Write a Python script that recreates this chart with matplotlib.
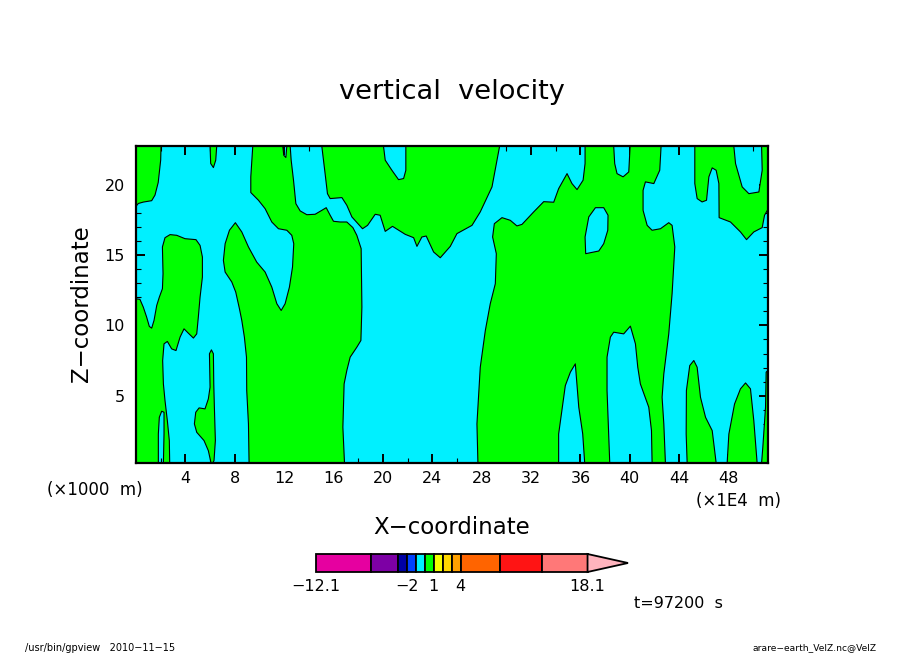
import matplotlib
matplotlib.use("Agg")
import matplotlib.pyplot as plt
from matplotlib.ticker import MultipleLocator

plt.rcParams['font.family'] = 'DejaVu Sans'
W, H = 904, 654
CYAN = '#00f0ff'
GREEN = '#00ff00'

XMAX = 51.2
ZMIN, ZMAX = 0.19, 22.8

# Outlines of the positive (green) regions of the vertical velocity field: (x, z)
region_a = [(0,22.8),(2.03,22.8),(2.0,21.8),(1.8,20.2),(1.54,19.3),(1.27,18.9),(0.59,18.8),(0.19,18.7),(0,18.5)]
region_b = [(0,11.9),(0.32,11.86),(0.59,11.31),(0.86,10.6),(1.08,9.93),(1.27,9.81),(1.46,10.36),(1.68,11.43),
            (1.89,12.02),(2.14,12.62),(2.19,13.69),(2.14,15.6),(2.35,16.26),(2.76,16.48),(3.3,16.43),(3.97,16.19),
            (4.86,16.12),(5.19,15.71),(5.38,14.88),(5.38,13.45),(5.19,12.02),(5.05,10.6),(4.92,9.4),(4.65,9.1),
            (4.24,9.45),(3.89,9.76),(3.57,9.17),(3.24,8.21),(2.89,8.33),(2.54,8.86),(2.27,8.69),(2.16,7.5),
            (2.22,5.83),(2.35,4.64),(2.54,3.21),(2.7,1.79),(2.73,0.19),(2.22,0.19),(2.27,2.26),(2.27,3.81),
            (2.08,3.88),(1.89,3.45),(1.81,2.26),(1.81,0.19),(0,0.19)]
region_c = [(6.0,22.8),(6.05,21.55),(6.27,21.26),(6.46,21.79),(6.54,22.8)]
region_d = [(6.08,.19),(5.86,1.07),(5.51,1.79),(4.92,2.38),(4.73,2.98),(4.84,3.81),(5.11,4.12),(5.59,4.05),
            (5.86,4.76),(6.0,5.6),(5.95,7.98),(6.11,8.26),(6.27,7.98),(6.3,5.83),(6.35,4.17),(6.43,1.79),
            (6.32,.36),(6.22,.19)]
region_e = [(9.16,.19),(9.11,2.98),(8.97,5.36),(8.95,7.74),(8.78,9.17),(8.57,10.36),(8.38,11.19),(8.08,12.38),
            (7.76,13.1),(7.22,13.81),(7.08,14.64),(7.22,15.83),(7.57,16.79),(8.05,17.33),(8.57,16.67),(9.11,15.6),
            (9.78,14.52),(10.46,13.81),(11.0,12.74),(11.41,11.55),(11.76,11.07),(12.08,11.55),(12.43,12.74),
            (12.68,14.17),(12.78,15.83),(12.62,16.43),(12.22,16.79),(11.54,16.9),(11.0,17.38),(10.46,18.33),
            (9.92,18.93),(9.3,19.48),(9.3,20.6),(9.46,22.8),(11.89,22.8),(11.97,22.14),(12.14,21.98),(12.22,22.8),
            (12.49,22.8),(12.57,21.79),(12.76,20.36),(12.95,18.69),(13.3,18.17),(13.84,17.9),(14.51,17.93),
            (15.05,18.21),(15.41,18.4),(15.73,17.86),(16.0,17.43),(16.54,17.38),(17.08,17.38),(17.57,16.98),
            (17.89,16.43),(18.24,15.48),(18.3,11.31),(18.22,8.93),(17.89,8.45),(17.35,7.74),(17.08,6.79),
            (16.86,5.83),(16.76,2.74),(16.89,.19)]
region_f = [(15.05,22.8),(15.32,20.83),(15.51,19.4),(15.73,19.05),(16.68,19.12),(17.08,18.57),(17.49,17.74),
            (18.35,16.9),(18.76,17.14),(19.38,17.93),(19.78,17.86),(20.19,16.71),(20.78,17.07),(21.81,16.5),
            (22.49,16.26),(22.76,15.64),(23.16,16.31),(23.51,16.38),(24.11,15.24),(24.65,14.83),(25.46,15.64),
            (26.0,16.55),(27.22,17.14),(27.89,18.1),(28.84,19.88),(29.46,22.8),(21.86,22.8),(21.86,21.07),
            (21.68,20.48),(21.27,20.4),(20.73,21.07),(20.19,21.79),(20.05,22.8)]
region_g = [(27.7,.19),(27.62,2.98),(27.89,7.02),(28.3,9.64),(28.7,11.55),(29.11,12.98),(29.19,15.12),(28.89,16.31),
            (29.03,17.26),(29.65,17.69),(30.32,17.5),(30.86,17.1),(31.27,17.21),(32.22,18.1),(33.03,18.83),
            (33.84,18.79),(34.24,19.76),(34.92,20.83),(35.32,20.12),(35.73,19.69),(36.22,20.36),(36.38,21.55),
            (36.38,22.8),(38.7,22.8),(38.78,21.55),(38.97,20.83),(39.46,20.6),(39.92,20.95),(40.03,22.8),
            (42.54,22.8),(42.43,21.07),(41.95,20.12),(41.27,20.24),(41.08,19.64),(41.08,18.21),(41.41,17.14),
            (41.81,16.79),(42.49,16.9),(43.16,17.33),(43.43,17.14),(43.65,15.6),(43.43,12.26),(43.16,9.4),
            (42.76,6.55),(42.62,4.88),(42.76,2.98),(42.89,.19),(41.81,.19),(41.76,2.5),(41.54,4.17),(40.86,5.83),
            (40.65,7.02),(40.46,8.69),(40.05,9.95),(39.51,9.4),(38.7,9.52),(38.43,9.17),(38.16,7.74),(38.16,5.36),
            (38.38,.19),(36.35,.19),(36.19,2.26),(35.87,4.17),(35.59,7.26),(35.19,6.67),(34.78,5.71),(34.24,2.26),
            (34.24,.19)]
region_h = [(45.27,22.8),(45.27,20.12),(45.46,19.05),(45.86,18.81),(46.22,18.93),(46.41,20.6),(46.68,21.24),
            (47.0,21.07),(47.22,20.12),(47.24,17.69),(48.16,17.38),(48.97,16.67),(49.46,16.12),(50.05,16.67),
            (50.73,16.98),(50.92,17.86),(51.2,18.29),(51.2,22.8),(50.68,22.8),(50.73,21.07),(50.46,19.52),
            (49.65,19.4),(49.11,19.88),(48.57,21.55),(48.43,22.8)]
region_i = [(44.65,.19),(44.57,2.26),(44.59,5.36),(44.86,7.14),(45.19,7.5),(45.46,7.02),(45.73,4.88),(46.14,3.45),
            (46.68,2.5),(47.0,.19)]
region_j = [(47.89,.19),(48.03,2.26),(48.49,4.4),(48.97,5.48),(49.38,5.9),(49.78,5.48),(50.05,3.21),(50.32,.19)]
region_k = [(50.68,.19),(50.78,1.31),(51.0,4.17),(51.05,6.67),(51.2,6.79),(51.2,.19)]
green_regions = [region_a, region_b, region_c, region_d, region_e, region_f,
                 region_g, region_h, region_i, region_j, region_k]
# Negative pocket enclosed by region_g
hole_g = [(36.43,15.12),(36.38,16.31),(36.68,17.74),(37.22,18.4),(37.89,18.4),(38.24,17.86),(38.22,16.79),
          (37.89,15.83),(37.49,15.31)]

# Colour bar
levels = [-12.1, -6, -3, -2, -1, 0, 1, 2, 3, 4, 8.4, 13, 18.1]
level_colors = ['#e600a0', '#7d00a5', '#0000a5', '#0040ff', '#00f0ff', '#00ff00', '#f5ff00',
                '#ffd700', '#ffa000', '#ff6400', '#ff1414', '#ff7878']
over_color = '#ffb4be'
over_tip = 22.6
cbar_ticks = [-12.1, -2, 1, 4, 18.1]
cbar_labels = ['\u221212.1', '\u22122', '1', '4', '18.1']

x_ticks = list(range(4, 49, 4))
z_ticks = [5, 10, 15, 20]

fig = plt.figure(figsize=(W / 100, H / 100), dpi=100, facecolor='white')

def px_axes(x0, y0, x1, y1):
    return fig.add_axes([x0 / W, 1 - y1 / H, (x1 - x0) / W, (y1 - y0) / H])

ax = px_axes(136, 146, 768, 463)
ax.set_facecolor(CYAN)
ax.set_xlim(0, XMAX)
ax.set_ylim(ZMIN, ZMAX)
for reg in green_regions:
    xs, zs = zip(*reg)
    ax.fill(xs, zs, facecolor=GREEN, edgecolor='black', linewidth=0.8, joinstyle='round', zorder=2)
xs, zs = zip(*hole_g)
ax.fill(xs, zs, facecolor=CYAN, edgecolor='black', linewidth=0.8, joinstyle='round', zorder=3)

ax.set_xticks(x_ticks)
ax.set_yticks(z_ticks)
ax.xaxis.set_minor_locator(MultipleLocator(2))
ax.yaxis.set_minor_locator(MultipleLocator(1))
ax.tick_params(which='major', direction='in', top=True, right=True, length=6.5, width=1.4,
               labelsize=11.5, color='black')
ax.tick_params(which='minor', direction='in', top=True, right=True, length=3.5, width=0.8)
ax.tick_params(axis='x', which='major', pad=6)
ax.tick_params(axis='y', which='major', pad=8)
for s in ax.spines.values():
    s.set_linewidth(1.6)
    s.set_zorder(5)

fig.text(452 / W, 1 - 92 / H, 'vertical  velocity', fontsize=19.6, ha='center', va='center')
fig.text(452 / W, 1 - 528 / H, 'X\u2212coordinate', fontsize=16.5, ha='center', va='center')
fig.text(82 / W, 1 - 304 / H, 'Z\u2212coordinate', fontsize=16.5, rotation=90, ha='center', va='center')
fig.text(47 / W, 1 - 490 / H, '(\u00d71000  m)', fontsize=12, ha='left', va='center')
fig.text(781 / W, 1 - 501 / H, '(\u00d71E4  m)', fontsize=12, ha='right', va='center')
fig.text(634 / W, 1 - 603 / H, 't=97200  s', fontsize=11.5, ha='left', va='center')
fig.text(25 / W, 1 - 648 / H, '/usr/bin/gpview   2010\u221211\u221215', fontsize=7, ha='left', va='center')
fig.text(877 / W, 1 - 648 / H, 'arare\u2212earth_VelZ.nc@VelZ', fontsize=6.6, ha='right', va='center')

cax = px_axes(316, 554, 628, 572)
cax.set_xlim(levels[0], over_tip)
cax.set_ylim(0, 1)
for lo, hi, c in zip(levels[:-1], levels[1:], level_colors):
    cax.bar(lo, 1, width=hi - lo, align='edge', facecolor=c, edgecolor='black', linewidth=1.3, clip_on=False)
cax.fill([levels[-1], levels[-1], over_tip], [0, 1, 0.5], facecolor=over_color, edgecolor='black',
         linewidth=1.3, clip_on=False)
for s in cax.spines.values():
    s.set_visible(False)
cax.set_yticks([])
cax.set_xticks(cbar_ticks)
cax.set_xticklabels(cbar_labels, fontsize=11.5)
cax.tick_params(axis='x', length=0, pad=5)
cax.patch.set_alpha(0)

fig.savefig('out.png', dpi=100)
